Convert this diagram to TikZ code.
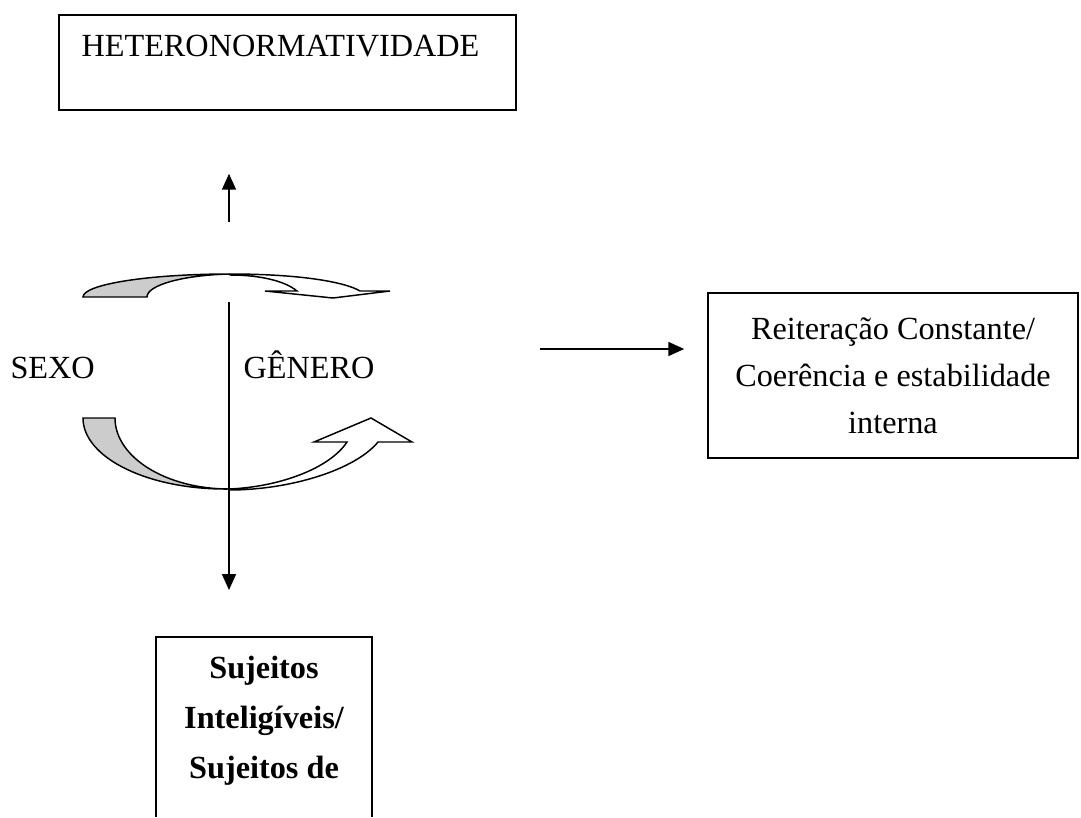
\documentclass[tikz,border=0pt]{standalone}
\usepackage{fontspec}
\setmainfont{Liberation Serif}
\definecolor{bandgray}{HTML}{CCCCCC}
\usetikzlibrary{arrows.meta,positioning}

\begin{document}
\begin{tikzpicture}[x=0.375pt,y=-0.375pt,
  frame/.style={draw, line width=0.6pt, inner sep=0pt},
  txt/.style={font=\fontsize{12.1}{17.6}\selectfont, inner sep=0pt},
  conn/.style={line width=0.75pt, -{Triangle[length=6pt,width=5.2pt]}},
  band/.style={draw, line width=0.55pt, fill=bandgray},
  hollow/.style={draw, line width=0.55pt, fill=white}]
\useasboundingbox (0,0) rectangle (1081,817);
% boxes
\node[frame, minimum width=171.4pt, minimum height=35.6pt] (hetbox) at (287.5,62.5) {};
\node[txt, anchor=base west] (hettext) at (81,57) {HETERONORMATIVIDADE};
\node[frame, txt, align=center, minimum width=138.75pt, minimum height=61.9pt] (reitbox) at (893,375.5)
  {Reiteração Constante/\\Coerência e estabilidade\\interna};
\coordinate (subtop) at (264,637);
\draw[line width=0.6pt] (156,817) |- (372,637) -- (372,817);
\node[txt, font=\fontsize{12.1}{18.75}\selectfont\bfseries, align=center, anchor=north] (subtext) at (264,656)
  {Sujeitos\\Inteligíveis/\\Sujeitos de};
% labels
\node[txt, anchor=base west] (sexo) at (10,378) {SEXO};
\node[txt, anchor=base west] (genero) at (243,378) {GÊNERO};
% curved arrows, top
\draw[band] (83,297) .. controls (83,284.3) and (148.8,274) .. (230,274)
  .. controls (184.2,275) and (147,284.8) .. (147,297) -- cycle;
\draw[hollow] (230,274) .. controls (300,274) and (345,282) .. (360,291)
  -- (390,291) -- (333,298) -- (265,291) -- (297,291)
  .. controls (285,281) and (260,275) .. (230,275) -- cycle;
% curved arrows, bottom
\draw[band] (83,418) -- (115,418) .. controls (115,457.2) and (166,489) .. (229,489)
  .. controls (148.4,490) and (83,457.8) .. (83,418) -- cycle;
\draw[hollow] (229,490) .. controls (290,490) and (355,470) .. (378,442)
  -- (412,442) -- (371,418) -- (314,442) -- (347,442)
  .. controls (330,468) and (280,487) .. (229,489) -- cycle;
% connectors
\coordinate (uptail) at (229,222);
\draw[conn, shorten >=23.6pt] (uptail) -- (uptail |- hetbox.south);
\coordinate (axtop) at (229,302);
\draw[conn, shorten >=17.6pt] (axtop) -- (axtop |- subtop);
\coordinate (feed) at (540,349);
\draw[conn, shorten >=8.6pt] (feed) -- (feed -| reitbox.west);
\end{tikzpicture}
\end{document}
